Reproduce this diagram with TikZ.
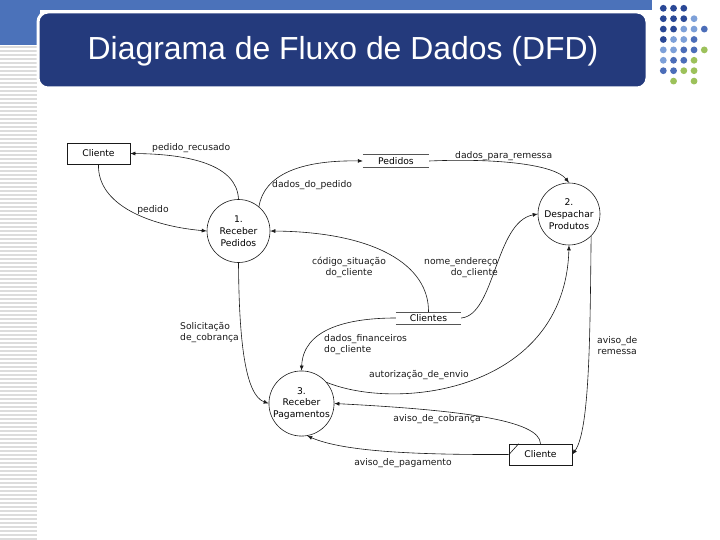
\documentclass[tikz,border=0pt]{standalone}
\usepackage{fontspec}
\setmainfont{DejaVu Sans}
\newfontfamily\titlefont{Liberation Sans}
\usetikzlibrary{positioning,arrows.meta,calc}
\definecolor{cBand}{HTML}{4B72BA}
\definecolor{cTitle}{HTML}{243A7C}
\definecolor{cStripe}{HTML}{DCDCDC}
\definecolor{cDotD}{HTML}{2A4896}
\definecolor{cDotM}{HTML}{4B6DB8}
\definecolor{cDotL}{HTML}{7DA0D8}
\definecolor{cDotG}{HTML}{9CC15A}
\definecolor{cInk}{HTML}{1A1A1A}
\definecolor{cStoreRule}{HTML}{555555}

\begin{document}
\begin{tikzpicture}[
  x=1pt, y=-1pt,
  font=\fontsize{9.2}{11}\selectfont,
  flow/.style={-{Latex[length=5pt,width=4pt]}, cInk, line width=0.6pt},
  proc/.style={circle, draw=cInk, line width=0.6pt, minimum size=63pt, inner sep=0pt, align=center, font=\fontsize{9.2}{11.8}\selectfont},
  ent/.style={rectangle, draw=cInk, line width=0.6pt, minimum width=63pt, minimum height=21pt, inner sep=0pt},
  store/.style={minimum width=66pt, minimum height=12pt, inner sep=0pt},
  storeline/.style={cStoreRule, line width=0.6pt},
  lbl/.style={inner sep=0pt, align=center, text=cInk},
]

% ---------- page frame ----------
\path[fill=white, use as bounding box] (0,0) rectangle (720,540);
\fill[cBand] (0,0) rectangle (652,10);
\fill[cBand] (0,0) rectangle (40,45);
\foreach \y in {47,51,...,539}
  \draw[cStripe, line width=1.2pt] (0,\y) -- (37,\y);
\draw[white, line width=3pt, fill=cTitle, rounded corners=10pt] (38,12) rectangle (647,88);
\node[text=white, font=\titlefont\fontsize{31.9}{36}\selectfont] (title) at (343,51) {Diagrama de Fluxo de Dados (DFD)};

% dot grid, top right
\foreach \c/\r/\col in {0/0/cDotD,1/0/cDotD,2/0/cDotD,
  0/1/cDotD,1/1/cDotD,2/1/cDotD,3/1/cDotL,
  0/2/cDotD,1/2/cDotD,2/2/cDotL,3/2/cDotL,4/2/cDotM,
  0/3/cDotD,1/3/cDotL,2/3/cDotL,3/3/cDotM,
  0/4/cDotL,1/4/cDotL,2/4/cDotM,3/4/cDotM,4/4/cDotG,
  0/5/cDotL,1/5/cDotM,2/5/cDotM,3/5/cDotG,
  0/6/cDotM,1/6/cDotM,2/6/cDotG,3/6/cDotG,
  1/7/cDotG,3/7/cDotG}
  \fill[\col] ({663.3+10.25*\c},{8.3+10.4*\r}) circle (3.4);

% ---------- entities, processes, stores ----------
\node[ent] (cli1) at (98.5,153.5) {Cliente};
\node[ent] (cli2) at (540.5,454.5) {Cliente};
\draw[cInk, line width=0.6pt] ($(cli2.north west)+(1,10)$) -- ($(cli2.north west)+(10,0)$);

\node[proc] (p1) at (238.5,231) {1.\\Receber\\Pedidos};
\node[proc, minimum size=62pt] (p2) at (569,214) {2.\\Despachar\\Produtos};
\node[proc] (p3) at (301.5,403.5) {3.\\Receber\\Pagamentos};

\node[store] (ped) at (396,161) {Pedidos};
\node[store, minimum width=65pt] (clis) at (428.5,318) {Clientes};
\foreach \s in {ped,clis} {
  \draw[storeline] (\s.north west) -- (\s.north east);
  \draw[storeline] (\s.south west) -- (\s.south east);
}

% ---------- data flows ----------
\draw[flow] (p1.north) .. controls (237,165) and (190,154) .. (cli1.east);
\draw[flow] (cli1.south) .. controls (97,205) and (150,226) .. (p1.west);
\draw[flow] (p1.50) .. controls (264,175) and (300,160) .. (ped.west);
\draw[flow] (ped.east) .. controls (500,158) and (555,165) .. (p2.north);
\draw[flow] (clis.north) .. controls (429,265) and (375,232) .. (p1.east);
\draw[flow] (clis.east) .. controls (495,315) and (495,222) .. (p2.west);
\draw[flow] (clis.west) .. controls (345,318) and (303,330) .. (p3.north);
\draw[flow] (p3.40) .. controls (400,412) and (565,390) .. (p2.south);
\draw[flow] (p2.-45) .. controls (590,330) and (590,430) .. (cli2.east);
\draw[flow] (cli2.north) .. controls (540,420) and (460,410) .. (p3.east);
\draw[flow] (cli2.west) .. controls (400,455) and (340,450) .. (p3.-80);
\draw[flow] (p1.south) .. controls (239,340) and (245,395) .. (p3.west);

% ---------- flow labels ----------
\node[lbl, anchor=west] (lRecusado) at (152,148) {pedido\_recusado};
\node[lbl] (lPedido) at (153,210) {pedido};
\node[lbl, anchor=west] (lDadosPed) at (272,185) {dados\_do\_pedido};
\node[lbl, anchor=west] (lRemessa) at (455,156) {dados\_para\_remessa};
\node[lbl] (lSituacao) at (349,267) {código\_situação\\do\_cliente};
\node[lbl, anchor=east, align=right] (lEndereco) at (498,268) {nome\_endereço\\do\_cliente};
\node[lbl, anchor=west, align=left] (lFinanc) at (324,345) {dados\_financeiros\\do\_cliente};
\node[lbl] (lAutoriz) at (419,375) {autorização\_de\_envio};
\node[lbl, anchor=west] (lAvisoRem) at (597,346) {aviso\_de\\remessa};
\node[lbl] (lCobranca) at (437,419) {aviso\_de\_cobrança};
\node[lbl] (lPagamento) at (403,463) {aviso\_de\_pagamento};
\node[lbl, anchor=west, align=left] (lSolicit) at (180,333) {Solicitação\\de\_cobrança};

\end{tikzpicture}
\end{document}
